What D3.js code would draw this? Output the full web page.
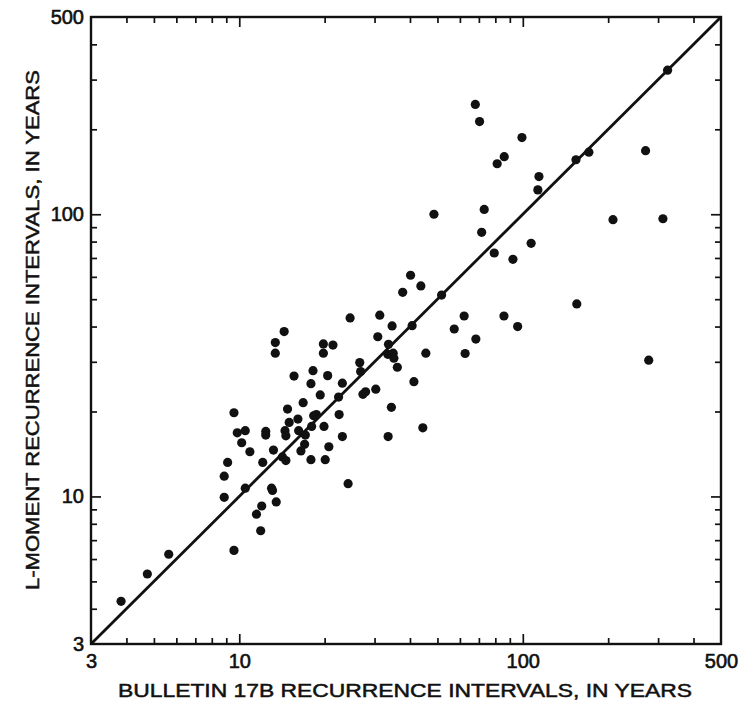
<!DOCTYPE html>
<html>
<head>
<meta charset="utf-8">
<script src="https://cdn.jsdelivr.net/npm/d3@7"></script>
<style>
  html, body { margin: 0; padding: 0; background: #fff; }
  svg { display: block; }
  text { font-family: "Liberation Sans", Arial, Helvetica, sans-serif; fill: #111; }
</style>
</head>
<body>
<svg id="chart" width="740" height="709"></svg>
<script>
// Bulletin 17B recurrence intervals (years)
const bulletin17B = [
  324, 154, 171, 271, 208, 312, 155, 278,
  68, 70.4, 99.3, 86.0, 81.2, 114, 113, 48.6, 73.1, 71.6, 107, 79.3, 92.3,
  40.2, 43.7, 37.7, 51.7, 62.1, 85.8, 31.3, 34.6, 40.7, 57.3, 95.9, 68.3,
  33.6, 30.8, 33.4, 34.9, 35.1, 45.5, 62.6, 36.1, 41.3,
  24.6, 14.4, 13.4, 13.4, 19.8, 21.4, 19.8, 26.6, 26.8, 18.2, 15.6, 20.5,
  17.9, 23.1, 30.3, 27.9, 27.3, 19.3, 22.4, 16.8, 34.4, 14.8, 9.58, 22.5,
  18.3, 18.7, 16.1, 15.0, 18.0, 19.9, 44.4, 9.84, 10.5, 12.4, 12.4, 14.5,
  14.6, 16.2, 17.1, 23.1, 33.5, 10.2, 17.0, 16.5, 10.9, 13.2, 20.7, 14.2,
  14.6, 17.9, 20.1, 12.1, 9.10, 8.85, 24.2, 10.5, 13.0, 13.1, 8.85,
  13.5, 12.0, 11.5, 11.9, 9.58, 5.64, 4.74, 3.83
];
// L-moment recurrence intervals (years)
const lMoment = [
  324, 156, 166, 168, 95.7, 96.4, 48.1, 30.4,
  245, 213, 187, 160, 151, 136, 122, 100, 104, 86.3, 78.9, 72.9, 69.2,
  60.8, 55.7, 52.9, 51.7, 43.6, 43.6, 43.9, 40.2, 40.3, 39.2, 40.0, 36.1,
  34.6, 36.8, 31.9, 32.2, 30.9, 32.2, 32.1, 28.7, 25.5,
  42.9, 38.4, 35.1, 32.2, 34.7, 34.4, 32.2, 29.8, 27.7, 27.9, 26.7, 26.8,
  25.1, 25.2, 24.0, 23.5, 23.0, 22.9, 22.5, 21.5, 20.7, 20.4, 19.8, 19.5,
  19.3, 19.5, 18.8, 18.3, 17.7, 17.7, 17.5, 16.8, 17.1, 17.0, 16.5, 17.1,
  16.4, 17.1, 16.5, 16.3, 16.3, 15.5, 15.3, 14.5, 14.4, 14.6, 15.0, 13.8,
  13.4, 13.5, 13.5, 13.2, 13.2, 11.8, 11.1, 10.7, 10.7, 10.5, 9.93,
  9.56, 9.25, 8.65, 7.56, 6.44, 6.24, 5.31, 4.25
];
const domainLimits = [3, 500];
const majorTickLabels = [3, 10, 100, 500];
const majorTicks = [10, 100];
const minorTicks = [4, 5, 6, 7, 8, 9, 20, 30, 40, 50, 60, 70, 80, 90, 200, 300, 400];
const equalityLine = [3, 500];
const xTitle = "BULLETIN 17B RECURRENCE INTERVALS, IN YEARS";
const yTitle = "L-MOMENT RECURRENCE INTERVALS, IN YEARS";

const svg = d3.select("#chart");
const W = 740, H = 709;
const m = { left: 91, right: 19, top: 17, bottom: 65 };
const x0 = m.left, x1 = W - m.right, y0 = H - m.bottom, y1 = m.top;

const x = d3.scaleLog().domain(domainLimits).range([x0, x1]);
const y = d3.scaleLog().domain(domainLimits).range([y0, y1]);

const data = bulletin17B.map((v, i) => ({ bx: v, ly: lMoment[i] }));

// Tick marks (inward, on all four sides)
function tickAxis(gen, tr, values, size) {
  const g = svg.append("g").attr("transform", tr)
    .call(gen.tickValues(values).tickSize(-size).tickFormat(""));
  g.select(".domain").remove();
  g.selectAll(".tick line").attr("stroke", "#111").attr("stroke-width", 1.7);
  return g;
}
const sides = [
  [() => d3.axisBottom(x), `translate(0,${y0})`],
  [() => d3.axisTop(x), `translate(0,${y1})`],
  [() => d3.axisLeft(y), `translate(${x0},0)`],
  [() => d3.axisRight(y), `translate(${x1},0)`]
];
sides.forEach(([mk, tr]) => {
  tickAxis(mk(), tr, majorTicks, 10);
  tickAxis(mk(), tr, minorTicks, 6);
});

// Frame
svg.append("rect")
  .attr("x", x0).attr("y", y1).attr("width", x1 - x0).attr("height", y0 - y1)
  .attr("fill", "none").attr("stroke", "#111").attr("stroke-width", 2.4);

// Tick labels
function styleLabels(g) {
  g.select(".domain").remove();
  g.selectAll("text").attr("font-size", 20).attr("fill", "#111")
    .attr("stroke", "#111").attr("stroke-width", 0.6)
    .style("font-family", "'Liberation Sans', Arial, sans-serif");
}
const xl = svg.append("g").attr("transform", `translate(0,${y0})`)
  .call(d3.axisBottom(x).tickValues(majorTickLabels).tickSize(0).tickPadding(10).tickFormat(d3.format("d")));
styleLabels(xl);

const yl = svg.append("g").attr("transform", `translate(${x0},0)`)
  .call(d3.axisLeft(y).tickValues(majorTickLabels).tickSize(0).tickPadding(7).tickFormat(d3.format("d")));
styleLabels(yl);

// 1:1 line
svg.append("line")
  .attr("x1", x(equalityLine[0])).attr("y1", y(equalityLine[0]))
  .attr("x2", x(equalityLine[1])).attr("y2", y(equalityLine[1]))
  .attr("stroke", "#111").attr("stroke-width", 2.8);

// Points
svg.append("g").selectAll("circle").data(data).join("circle")
  .attr("cx", d => x(d.bx)).attr("cy", d => y(d.ly)).attr("r", 4.6)
  .attr("fill", "#111");

// Axis titles
svg.append("text")
  .attr("x", (118 + 692) / 2).attr("y", 697)
  .attr("text-anchor", "middle").attr("font-size", 19)
  .attr("stroke", "#111").attr("stroke-width", 0.5)
  .attr("textLength", 574).attr("lengthAdjust", "spacingAndGlyphs")
  .text(xTitle);

svg.append("text")
  .attr("transform", `translate(39,${(70 + 590) / 2}) rotate(-90)`)
  .attr("text-anchor", "middle").attr("font-size", 19)
  .attr("stroke", "#111").attr("stroke-width", 0.5)
  .attr("textLength", 520).attr("lengthAdjust", "spacingAndGlyphs")
  .text(yTitle);
</script>
</body>
</html>
